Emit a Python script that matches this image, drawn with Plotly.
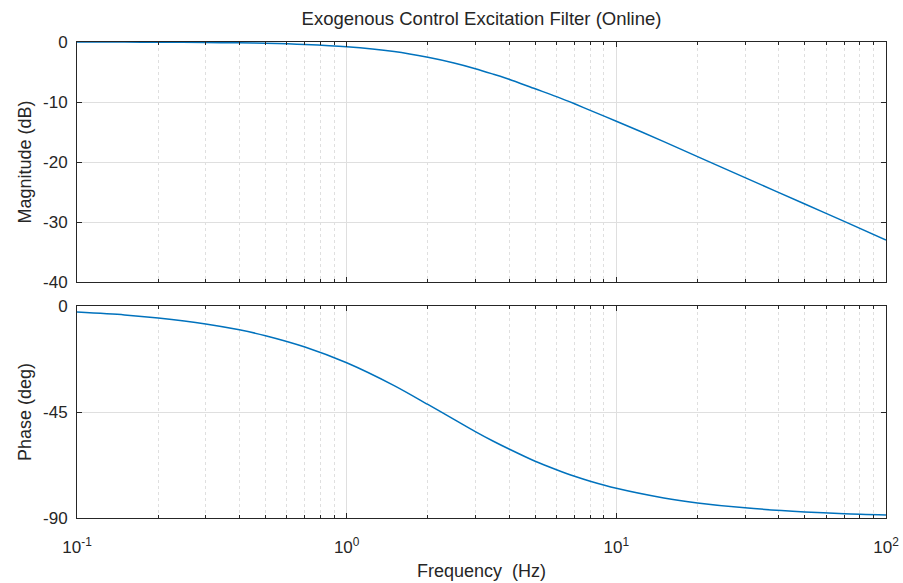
import plotly.graph_objects as go
from plotly.subplots import make_subplots

# Values
freq_hz = [0.1, 0.15, 0.2, 0.3, 0.4, 0.5, 0.7, 1.0, 1.5, 2.0, 2.5, 3.0, 3.5, 4.0, 5.0, 6.0, 7.0, 8.0,
           10.0, 15.0, 20.0, 30.0, 50.0, 70.0, 100.0]
magnitude_db = [-0.01, -0.02, -0.03, -0.08, -0.14, -0.21, -0.41, -0.79, -1.6, -2.55, -3.5,
                -4.45, -5.37, -6.2, -7.8, -9.1, -10.3, -11.4, -13.2, -16.6, -19.1, -22.6,
                -27.0, -29.9, -33.0]
phase_deg = [-2.6, -3.8, -5.1, -7.6, -10.1, -12.6, -17.4, -24.1, -33.8, -41.8, -48.1,
             -53.3, -57.4, -60.7, -65.9, -69.5, -72.3, -74.4, -77.4, -81.5, -83.6, -85.7,
             -87.4, -88.2, -88.7]

title_text = "Exogenous Control Excitation Filter (Online)"
mag_ticks = [0, -10, -20, -30, -40]
mag_labels = ["0", "-10", "-20", "-30", "-40"]
phase_ticks = [0, -45, -90]
phase_labels = ["0", "-45", "-90"]
decade_vals = [0.1, 1, 10, 100]
decade_text = ["10<sup>-1</sup>", "10<sup>0</sup>", "10<sup>1</sup>", "10<sup>2</sup>"]
minor_vals = [m * d for d in [0.1, 1, 10] for m in range(2, 10)]

LINE = "#0072BD"
AX = "#262626"
GRID = "#DFDFDF"
FONT = "Liberation Sans, Arial, sans-serif"
TICKSZ = 17
TITLESZ = 18

fig = make_subplots(rows=2, cols=1, shared_xaxes=False, vertical_spacing=0.05)
fig.add_trace(go.Scatter(x=freq_hz, y=magnitude_db, mode="lines",
                         line=dict(color=LINE, width=1.5, shape="spline", smoothing=0.8),
                         showlegend=False), row=1, col=1)
fig.add_trace(go.Scatter(x=freq_hz, y=phase_deg, mode="lines",
                         line=dict(color=LINE, width=1.5, shape="spline", smoothing=0.8),
                         showlegend=False), row=2, col=1)

xcommon = dict(type="log", range=[-1, 2], showline=True, linecolor=AX, linewidth=1, mirror="ticks",
               ticks="inside", ticklen=5, tickcolor=AX, tickvals=decade_vals, automargin=False,
               showgrid=True, gridcolor=GRID, gridwidth=1, zeroline=False,
               minor=dict(tickvals=minor_vals, ticks="inside", ticklen=3, tickcolor=AX,
                          showgrid=True, gridcolor=GRID, griddash="dot", gridwidth=1),
               tickfont=dict(family=FONT, size=TICKSZ, color=AX))
fig.update_xaxes(**xcommon)
fig.update_xaxes(showticklabels=False, row=1, col=1)
fig.update_xaxes(ticktext=decade_text, ticklabelstandoff=14,
                 title=dict(text="Frequency  (Hz)", font=dict(family=FONT, size=TITLESZ, color=AX), standoff=7),
                 row=2, col=1)

ycommon = dict(showline=True, linecolor=AX, linewidth=1, mirror="ticks", ticks="inside", ticklen=5,
               tickcolor=AX, showgrid=True, gridcolor=GRID, gridwidth=1, zeroline=False, automargin=False,
               tickfont=dict(family=FONT, size=TICKSZ, color=AX))
fig.update_yaxes(**ycommon)
fig.update_yaxes(range=[-40, 0], tickvals=mag_ticks, ticktext=mag_labels, ticklabelstandoff=5,
                 title=dict(text="Magnitude (dB)", font=dict(family=FONT, size=TITLESZ, color=AX), standoff=6),
                 row=1, col=1)
fig.update_yaxes(range=[-90, 0], tickvals=phase_ticks, ticktext=phase_labels, ticklabelstandoff=5,
                 title=dict(text="Phase (deg)", font=dict(family=FONT, size=TITLESZ, color=AX), standoff=6),
                 row=2, col=1)

fig.update_layout(
    width=903, height=583, autosize=False,
    margin=dict(l=77, r=17, t=42, b=65),
    paper_bgcolor="white", plot_bgcolor="white",
    title=dict(text=title_text, xref="paper", x=0.5, xanchor="center", yref="container",
               y=1 - 19 / 583, yanchor="middle",
               font=dict(family=FONT, size=18.5, color=AX)),
    font=dict(family=FONT, color=AX),
)
fig.layout.yaxis.domain = [1 - 240 / 476, 1]
fig.layout.yaxis2.domain = [0, 212 / 476]

fig.write_html("out.html")
